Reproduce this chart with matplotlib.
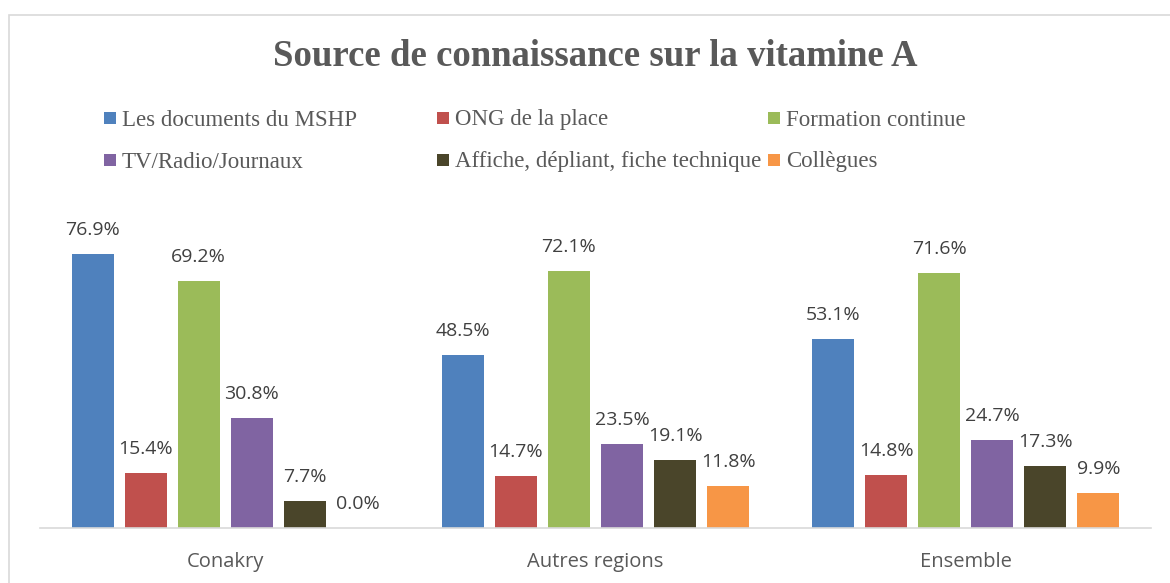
import numpy as np
import matplotlib.pyplot as plt
from matplotlib.patches import Rectangle

# data
categories = ['Conakry', 'Autres regions', 'Ensemble']
series = ['Les documents du MSHP', 'ONG de la place', 'Formation continue',
          'TV/Radio/Journaux', 'Affiche, dépliant, fiche technique', 'Collègues']
docs_mshp = [76.9, 48.5, 53.1]
ong = [15.4, 14.7, 14.8]
formation = [69.2, 72.1, 71.6]
tv_radio = [30.8, 23.5, 24.7]
affiche = [7.7, 19.1, 17.3]
collegues = [0.0, 11.8, 9.9]
values = [docs_mshp, ong, formation, tv_radio, affiche, collegues]
colors = ['#4F81BD', '#C0504D', '#9BBB59', '#8064A2', '#4A452A', '#F79646']

W, H = 1170, 583
fig = plt.figure(figsize=(W / 100, H / 100), dpi=100)

# outer frame (only top / left visible)
fig.patches.append(Rectangle((9 / W, -0.1), 1.2, 1 - 15 / H + 0.1,
                             transform=fig.transFigure, fill=False,
                             edgecolor='#d9d9d9', linewidth=1.2))

ax = fig.add_axes([40 / W, 55 / H, (1151 - 40) / W, 320.7 / H])
x = np.arange(len(categories))
step = 53 / 370
bw = 42 / 370
for i, (vals, col) in enumerate(zip(values, colors)):
    pos = x + (i - 2.5) * step
    ax.bar(pos, vals, bw, color=col, zorder=2)
    for px, v in zip(pos, vals):
        ax.annotate(f'{v:.1f}%', (px, v), xytext=(0, 17.3), textcoords='offset points',
                    ha='center', va='center', fontsize=14, family='Open Sans',
                    color='#404040')

ax.set_xlim(-0.5, 2.5)
ax.set_ylim(0, 90)
ax.set_yticks([])
ax.set_xticks(x)
ax.set_xticklabels(categories, fontsize=14.5, family='Open Sans', color='#595959')
ax.tick_params(axis='x', length=0, pad=17)
for s in ['top', 'right', 'left']:
    ax.spines[s].set_visible(False)
ax.spines['bottom'].set_color('#d9d9d9')
ax.spines['bottom'].set_linewidth(1.2)

fig.text(0.5 * (271 + 920) / W, 1 - 56 / H, 'Source de connaissance sur la vitamine A',
         ha='center', va='center', fontsize=26.5, fontweight='bold',
         family='Liberation Serif', color='#595959')

# legend, drawn by hand in equal-width columns
col_x = [104, 437, 768]
row_y = [118, 160]
for i, (name, col) in enumerate(zip(series, colors)):
    lx = col_x[i % 3]
    ly = row_y[i // 3]
    fig.patches.append(Rectangle((lx / W, 1 - (ly + 6) / H), 12 / W, 12 / H,
                                 transform=fig.transFigure, facecolor=col,
                                 edgecolor='none'))
    fig.text((lx + 18) / W, 1 - (ly + 2) / H, name, ha='left', va='center',
             fontsize=16.5, family='Liberation Serif', color='#595959')

fig.savefig('out.png', dpi=100)
